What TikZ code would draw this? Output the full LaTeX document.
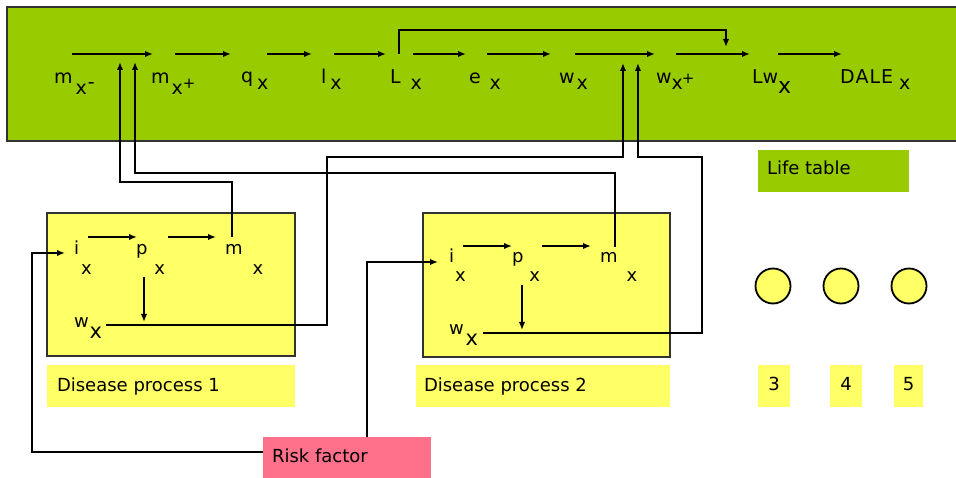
\documentclass[tikz,border=0pt]{standalone}
\usepackage{fontspec}
\setmainfont{DejaVu Sans}
\usetikzlibrary{arrows.meta}
\definecolor{lgreen}{HTML}{99CC00}
\definecolor{lyellow}{HTML}{FFFF66}
\definecolor{lpink}{RGB}{255,112,138}
\newcommand{\sbx}[2]{\raisebox{-#1pt}{#2}}
\begin{document}
\begin{tikzpicture}[x=1pt,y=-1pt,
  lbl/.style={inner sep=0pt, outer sep=0pt, anchor=base west, font=\fontsize{18}{20}\selectfont},
  tlbl/.style={lbl, font=\fontsize{19}{21}\selectfont},
  panel/.style={inner sep=0pt, outer sep=0pt, anchor=north west},
  arr/.style={line width=2.3pt, -{Latex[length=8pt,width=6.5pt]}},
  conna/.style={line width=2.8pt, -{Latex[length=8pt,width=6.5pt]}},
  dot/.style={circle, draw=black, line width=1.8pt, fill=lyellow, minimum size=35pt, inner sep=0pt}
]
\useasboundingbox (0,0) rectangle (956,478);
\fill[white] (0,0) rectangle (956,478);

% panels
\node[panel, fill=lgreen, draw=black!80, line width=1.6pt, minimum width=952pt, minimum height=134pt] (top) at (7,7) {};
\node[panel, fill=lyellow, draw=black!80, line width=1.2pt, minimum width=248pt, minimum height=143pt] (dp1) at (47,213) {};
\node[panel, fill=lyellow, draw=black!80, line width=1.2pt, minimum width=247pt, minimum height=144pt] (dp2) at (423,213) {};
\node[panel, fill=lyellow, minimum width=248pt, minimum height=42pt] (dp1lab) at (47,365) {};
\node[panel, fill=lyellow, minimum width=254pt, minimum height=42pt] (dp2lab) at (416,365) {};
\node[panel, fill=lgreen, minimum width=151pt, minimum height=42pt] (ltlab) at (758,150) {};
\node[panel, fill=lpink, minimum width=168pt, minimum height=43pt] (rflab) at (263,437) {};
\node[panel, fill=lyellow, minimum width=32pt, minimum height=42pt] (n3) at (758,365) {};
\node[panel, fill=lyellow, minimum width=32pt, minimum height=42pt] (n4) at (830,365) {};
\node[panel, fill=lyellow, minimum width=29pt, minimum height=42pt] (n5) at (894,365) {};

% label texts
\node[lbl] (t1) at (57,391) {Disease process 1};
\node[lbl] (t2) at (424,391) {Disease process 2};
\node[lbl] (t3) at (767,175) {Life table};
\node[lbl] (t4) at (272,462) {Risk factor};
\node[lbl, anchor=base] (t5) at (774,390) {3};
\node[lbl, anchor=base] (t6) at (846,390) {4};
\node[lbl, anchor=base] (t7) at (908.5,390) {5};

% circles
\node[dot] (c3) at (773,286) {};
\node[dot] (c4) at (841,286) {};
\node[dot] (c5) at (909,286) {};

% life table row
\node[tlbl] (mm) at (54,84) {m\hspace{3pt}\sbx{11}{x}\hspace{1pt}\sbx{5}{-}};
\node[tlbl] (mp) at (151,84) {m\hspace{2pt}\sbx{11}{x}\sbx{5}{\fontsize{15}{15}\selectfont+}};
\node[tlbl] (qx) at (241,83) {q\hspace{4pt}\sbx{7}{x}};
\node[tlbl] (lx) at (321,84) {l\hspace{4pt}\sbx{6}{x}};
\node[tlbl] (Lx) at (390,84) {L\hspace{10pt}\sbx{6}{x}};
\node[tlbl] (ex) at (469,84) {e\hspace{9pt}\sbx{6}{x}};
\node[tlbl] (wx) at (559,84) {w\hspace{2pt}\sbx{6}{x}};
\node[tlbl] (wp) at (656,84) {w\hspace{0pt}\sbx{6}{x}\hspace{-1pt}\sbx{0}{\fontsize{15}{15}\selectfont+}};
\node[tlbl] (Lw) at (752,84) {Lw\hspace{0pt}\sbx{10}{\fontsize{22}{22}\selectfont x}};
\node[tlbl] (dale) at (840,84) {D\hspace{1pt}A\hspace{1pt}L\hspace{1pt}E\hspace{6pt}\sbx{6}{x}};

% disease process 1 texts
\node[lbl] (i1) at (74,255) {i\hspace{2pt}\sbx{20}{x}};
\node[lbl] (p1) at (136,255) {p\hspace{7pt}\sbx{20}{x}};
\node[lbl] (m1) at (225,255) {m\hspace{10pt}\sbx{20}{x}};
\node[lbl] (w1) at (74,327) {w\hspace{1pt}\sbx{11}{\fontsize{21}{21}\selectfont x}};

% disease process 2 texts
\node[lbl] (i2) at (449,263) {i\hspace{1pt}\sbx{19}{x}};
\node[lbl] (p2) at (512,263) {p\hspace{6pt}\sbx{19}{x}};
\node[lbl] (m2) at (600,263) {m\hspace{9pt}\sbx{19}{x}};
\node[lbl] (w2) at (449,335) {w\hspace{2pt}\sbx{10}{\fontsize{21}{21}\selectfont x}};

% arrow coordinates, top row
\coordinate (a1s) at (72,54);  \coordinate (a1e) at (153,54);
\coordinate (a2s) at (175,54); \coordinate (a2e) at (231,54);
\coordinate (a3s) at (267,54); \coordinate (a3e) at (312,54);
\coordinate (a4s) at (334,54); \coordinate (a4e) at (386,54);
\coordinate (a5s) at (413,54); \coordinate (a5e) at (466,54);
\coordinate (a6s) at (487,54); \coordinate (a6e) at (551,54);
\coordinate (a7s) at (575,54); \coordinate (a7e) at (655,54);
\coordinate (a8s) at (676,54); \coordinate (a8e) at (750,54);
\coordinate (a9s) at (778,54); \coordinate (a9e) at (842,54);
\foreach \k in {1,...,9} {\draw[arr] (a\k s) -- (a\k e);}

% L_x to Lw_x bracket
\coordinate (lbs) at (399,54); \coordinate (lbe) at (726,47);
\draw[arr] (lbs) -- ++(0,-24) -| (lbe);

% disease process 1 arrows
\coordinate (d1a) at (88,237);  \coordinate (d1b) at (137,237);
\coordinate (d1c) at (168,237); \coordinate (d1d) at (216,237);
\coordinate (d1e) at (144,277); \coordinate (d1f) at (144,322);
\draw[arr] (d1a) -- (d1b);
\draw[arr] (d1c) -- (d1d);
\draw[arr] (d1e) -- (d1f);

% disease process 2 arrows
\coordinate (d2a) at (463,246); \coordinate (d2b) at (512,246);
\coordinate (d2c) at (542,246); \coordinate (d2d) at (591,246);
\coordinate (d2e) at (522,285); \coordinate (d2f) at (522,330);
\draw[arr] (d2a) -- (d2b);
\draw[arr] (d2c) -- (d2d);
\draw[arr] (d2e) -- (d2f);

% connectors to life table
\coordinate (k1s) at (232,237); \coordinate (k1e) at (120,62);
\draw[conna] (k1s) -- ++(0,-55) -| (k1e);
\coordinate (k2s) at (615,247); \coordinate (k2e) at (135,62);
\draw[conna] (k2s) -- ++(0,-74) -| (k2e);
\coordinate (k3s) at (106,325); \coordinate (k3e) at (623,63);
\draw[conna] (k3s) -| ++(221,-168) -| (k3e);
\coordinate (k4s) at (483,333); \coordinate (k4e) at (638,63);
\draw[conna] (k4s) -| ++(219,-176) -| (k4e);

% risk factor connectors
\coordinate (r1s) at (263,452); \coordinate (r1e) at (65,253);
\draw[conna] (r1s) -- ++(-231,0) |- (r1e);
\coordinate (r2s) at (367,437); \coordinate (r2e) at (438,262);
\draw[conna] (r2s) |- (r2e);
\end{tikzpicture}
\end{document}
